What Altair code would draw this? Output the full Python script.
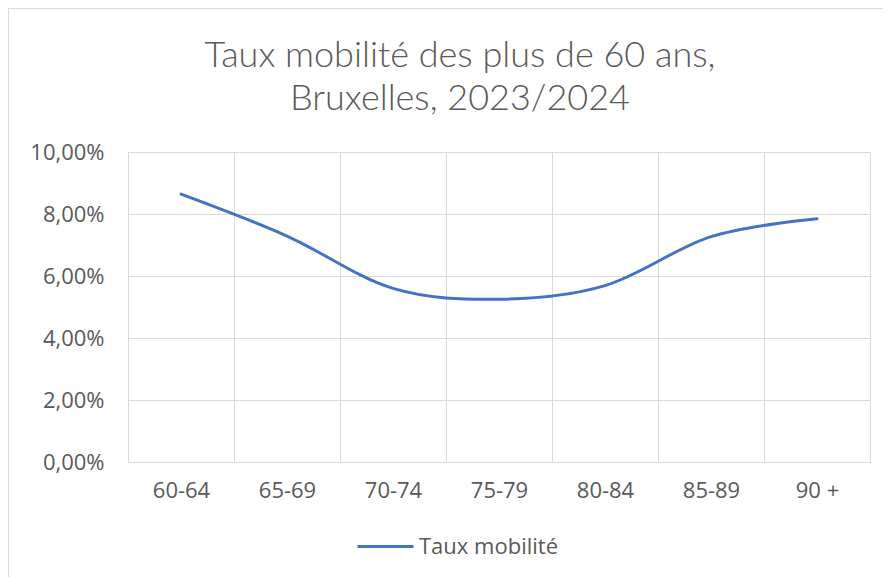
import altair as alt
import pandas as pd

categories = ["60-64", "65-69", "70-74", "75-79", "80-84", "85-89", "90 +"]
values = [0.0864, 0.0729, 0.0560, 0.0525, 0.0569, 0.0727, 0.0785]
series_name = "Taux mobilité"
y_ticks = [0, 0.02, 0.04, 0.06, 0.08, 0.10]
title_lines = ["Taux mobilité des plus de 60 ans,", "Bruxelles, 2023/2024"]

df = pd.DataFrame({"age": categories, "taux": values, "serie": [series_name] * len(categories)})

GRID = "#d9d9d9"
TXT = "#595959"
FONT = "Open Sans"

border = alt.Chart(pd.DataFrame({"a": [0]})).mark_rect(
    filled=False, stroke=GRID, strokeWidth=1
).encode(
    x=alt.value(-119.5), x2=alt.value(900), y=alt.value(-143.5), y2=alt.value(600)
)

line = alt.Chart(df).mark_line(interpolate="cardinal", strokeWidth=3, strokeCap="round").encode(
    x=alt.X(
        "age:N",
        sort=categories,
        scale=alt.Scale(type="band", paddingInner=0, paddingOuter=0),
        axis=alt.Axis(
            title=None, labelAngle=0, tickBand="extent", grid=True, gridColor=GRID,
            ticks=False, tickSize=0, domainColor=GRID, labelPadding=18,
            labelFont=FONT, labelFontSize=22, labelColor=TXT,
        ),
    ),
    y=alt.Y(
        "taux:Q",
        scale=alt.Scale(domain=[0, 0.10], nice=False, zero=True),
        axis=alt.Axis(
            title=None, values=y_ticks, grid=True, gridColor=GRID, ticks=False, tickSize=0,
            domainColor=GRID, labelPadding=24,
            labelExpr="replace(format(datum.value, '.2%'), '.', ',')",
            labelFont=FONT, labelFontSize=22, labelColor=TXT,
        ),
    ),
    color=alt.Color(
        "serie:N",
        scale=alt.Scale(range=["#4472C4"]),
        legend=alt.Legend(
            title=None, orient="none", legendX=228, legendY=365,
            symbolType="stroke", symbolSize=3136, symbolStrokeWidth=3,
            labelFont=FONT, labelFontSize=22, labelColor=TXT, labelOffset=4,
        ),
    ),
)

chart = alt.layer(border, line).properties(
    width=742,
    height=310,
    title=alt.TitleParams(
        title_lines, font="Lato", fontSize=36, fontWeight=300, color=TXT,
        anchor="middle", dx=-39, offset=-110, lineHeight=43,
    ),
    autosize=alt.AutoSizeParams(type="none"),
    padding={"left": 120, "top": 144, "right": 13, "bottom": 115},
).configure_view(stroke=None).configure(background="white")

chart.save("out.html", embed_options={"renderer": "svg", "actions": False})
